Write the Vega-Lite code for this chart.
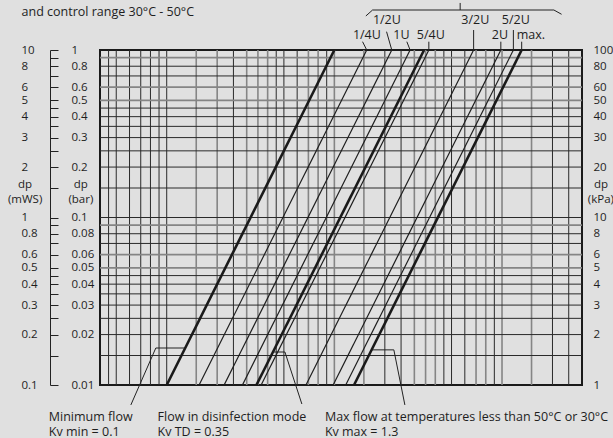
{
  "$schema": "https://vega.github.io/schema/vega-lite/v6.json",
  "width": 482,
  "height": 335,
  "autosize": {"type": "none"},
  "padding": {"left": 100, "top": 50, "right": 31, "bottom": 53},
  "background": "#e0e0e0",
  "config": {
    "view": {"stroke": "#1a1a1a", "strokeWidth": 2},
    "font": "Open Sans",
    "axis": {"labelFont": "Open Sans", "labelFontSize": 11.5, "labelColor": "#1e1e1e", "grid": false, "tickColor": "#222"}
  },
  "datasets": {
    "vgridDark": [{"Q":4.5},{"Q":5},{"Q":6},{"Q":7},{"Q":8},{"Q":9},{"Q":10},{"Q":25},{"Q":45},{"Q":50},{"Q":60},{"Q":90},{"Q":200},{"Q":250},{"Q":450},{"Q":500},{"Q":600},{"Q":900},{"Q":2000},{"Q":2500}],
    "vgridGrey": [{"Q":15},{"Q":20},{"Q":30},{"Q":35},{"Q":40},{"Q":70},{"Q":80},{"Q":100},{"Q":150},{"Q":300},{"Q":350},{"Q":400},{"Q":700},{"Q":800},{"Q":1000},{"Q":1500}],
    "hgridDark": [{"dp":0.8},{"dp":0.7},{"dp":0.45},{"dp":0.4},{"dp":0.35},{"dp":0.3},{"dp":0.25},{"dp":0.2},{"dp":0.15},{"dp":0.1},{"dp":0.08},{"dp":0.07},{"dp":0.045},{"dp":0.04},{"dp":0.035},{"dp":0.03},{"dp":0.025},{"dp":0.02},{"dp":0.015}],
    "hgridGrey": [{"dp":0.9},{"dp":0.6},{"dp":0.5},{"dp":0.09},{"dp":0.06},{"dp":0.05}],
    "curves": [
      {"curve":"Kv min","kind":"limit","Q":10,"dp":0.01},{"curve":"Kv min","kind":"limit","Q":100,"dp":1},
      {"curve":"1/4U","kind":"setting","Q":15.6,"dp":0.01},{"curve":"1/4U","kind":"setting","Q":156,"dp":1},
      {"curve":"1/2U","kind":"setting","Q":22,"dp":0.01},{"curve":"1/2U","kind":"setting","Q":220,"dp":1},
      {"curve":"1U","kind":"setting","Q":28.3,"dp":0.01},{"curve":"1U","kind":"setting","Q":283,"dp":1},
      {"curve":"Kv TD","kind":"limit","Q":34.3,"dp":0.01},{"curve":"Kv TD","kind":"limit","Q":343,"dp":1},
      {"curve":"5/4U","kind":"setting","Q":36.6,"dp":0.01},{"curve":"5/4U","kind":"setting","Q":366,"dp":1},
      {"curve":"3/2U","kind":"setting","Q":67.7,"dp":0.01},{"curve":"3/2U","kind":"setting","Q":677,"dp":1},
      {"curve":"2U","kind":"setting","Q":98.4,"dp":0.01},{"curve":"2U","kind":"setting","Q":984,"dp":1},
      {"curve":"5/2U","kind":"setting","Q":116.9,"dp":0.01},{"curve":"5/2U","kind":"setting","Q":1169,"dp":1},
      {"curve":"Kv max","kind":"limit","Q":131,"dp":0.01},{"curve":"Kv max","kind":"limit","Q":1310,"dp":1}
    ],
    "pointers": [
      {"p":"1/4U","o":1,"Q":147.3,"dp":1.121},{"p":"1/4U","o":2,"Q":156,"dp":1},
      {"p":"1/2U","o":1,"Q":204.8,"dp":1.286},{"p":"1/2U","o":2,"Q":220,"dp":1},
      {"p":"1U","o":1,"Q":270.6,"dp":1.121},{"p":"1U","o":2,"Q":283,"dp":1},
      {"p":"5/4U","o":1,"Q":366,"dp":1.121},{"p":"5/4U","o":2,"Q":366,"dp":1},
      {"p":"3/2U","o":1,"Q":677,"dp":1.316},{"p":"3/2U","o":2,"Q":677,"dp":1},
      {"p":"2U","o":1,"Q":984,"dp":1.121},{"p":"2U","o":2,"Q":984,"dp":1},
      {"p":"5/2U","o":1,"Q":1169,"dp":1.316},{"p":"5/2U","o":2,"Q":1169,"dp":1},
      {"p":"max","o":1,"Q":1310,"dp":1.121},{"p":"max","o":2,"Q":1310,"dp":1},
      {"p":"brace","o":1,"Q":154.1,"dp":1.596},{"p":"brace","o":2,"Q":169,"dp":1.733},{"p":"brace","o":3,"Q":2039,"dp":1.733},{"p":"brace","o":4,"Q":2266,"dp":1.634},
      {"p":"brace tick","o":1,"Q":562.8,"dp":1.733},{"p":"brace tick","o":2,"Q":562.8,"dp":1.909},
      {"p":"min flow","o":1,"Q":6.11,"dp":0.0076},{"p":"min flow","o":2,"Q":8.61,"dp":0.01663},{"p":"min flow","o":3,"Q":13.0,"dp":0.01663},
      {"p":"td flow","o":1,"Q":64.0,"dp":0.0077},{"p":"td flow","o":2,"Q":50.7,"dp":0.01574},{"p":"td flow","o":3,"Q":43.0,"dp":0.01574},
      {"p":"max flow","o":1,"Q":263.4,"dp":0.0076},{"p":"max flow","o":2,"Q":226.4,"dp":0.01621},{"p":"max flow","o":3,"Q":166.8,"dp":0.01621}
    ],
    "uTexts": [
      {"t":"1/2U","Q":205.7,"dp":1.51},{"t":"3/2U","Q":693.5,"dp":1.51},{"t":"5/2U","Q":1209,"dp":1.51},
      {"t":"1/4U","Q":156.3,"dp":1.229},{"t":"1U","Q":251,"dp":1.229},{"t":"5/4U","Q":376,"dp":1.229},{"t":"2U","Q":971,"dp":1.229},{"t":"max.","Q":1486,"dp":1.229}
    ],
    "axisTitles": [
      {"t":"dp","Q":1.43,"dp":0.1563},{"t":"(mWS)","Q":1.43,"dp":0.1272},
      {"t":"dp","Q":3.075,"dp":0.1563},{"t":"(bar)","Q":3.075,"dp":0.1272},
      {"t":"dp","Q":3890,"dp":0.1563},{"t":"(kPa)","Q":3890,"dp":0.1272}
    ],
    "leftTexts": [
      {"t":"and control range 30°C - 50°C","Q":1.362,"dp":1.675},
      {"t":"Minimum flow","Q":1.98,"dp":0.00648},{"t":"Kv min = 0.1","Q":1.98,"dp":0.00525},
      {"t":"Flow in disinfection mode","Q":8.82,"dp":0.00648},{"t":"Kv TD = 0.35","Q":8.82,"dp":0.00525},
      {"t":"Max flow at temperatures less than 50°C or 30°C","Q":87.8,"dp":0.00648},{"t":"Kv max = 1.3","Q":87.8,"dp":0.00525}
    ]
  },
  "resolve": {"axis": {"y": "independent"}},
  "layer": [
    {
      "data": {"name": "vgridDark"},
      "mark": {"type": "rule", "color": "#2a2a2a", "strokeWidth": 1},
      "encoding": {"x": {"field": "Q", "type": "quantitative", "scale": {"type": "log", "domain": [4, 3000], "nice": false}, "axis": null}}
    },
    {
      "data": {"name": "vgridGrey"},
      "mark": {"type": "rule", "color": "#858585", "strokeWidth": 1.6},
      "encoding": {"x": {"field": "Q", "type": "quantitative", "scale": {"type": "log", "domain": [4, 3000], "nice": false}, "axis": null}}
    },
    {
      "data": {"name": "hgridDark"},
      "mark": {"type": "rule", "color": "#2a2a2a", "strokeWidth": 1},
      "encoding": {"y": {"field": "dp", "type": "quantitative", "scale": {"type": "log", "domain": [0.01, 1], "nice": false}, "axis": null}}
    },
    {
      "data": {"name": "hgridGrey"},
      "mark": {"type": "rule", "color": "#858585", "strokeWidth": 1.6},
      "encoding": {"y": {"field": "dp", "type": "quantitative", "scale": {"type": "log", "domain": [0.01, 1], "nice": false}, "axis": null}}
    },
    {
      "data": {"name": "curves"},
      "transform": [{"filter": "datum.kind == 'setting'"}],
      "mark": {"type": "line", "color": "#1e1e1e", "strokeWidth": 1.2},
      "encoding": {
        "x": {"field": "Q", "type": "quantitative", "scale": {"type": "log", "domain": [4, 3000], "nice": false},
          "axis": {"orient": "bottom", "values": [4,5,8,10,20,30,40,50,80,100,200,300,400,500,800,1000,2000,3000],
            "labelExpr": "datum.value == 40 ? '30' : (datum.value >= 2000 ? '' : format(datum.value, 'd'))",
            "ticks": true, "tickSize": 5, "tickWidth": 1, "tickColor": "#222", "domain": false, "grid": false,
            "labelPadding": 2, "labelFlush": false, "labelOverlap": false, "title": null}},
        "y": {"field": "dp", "type": "quantitative", "scale": {"type": "log", "domain": [0.01, 1], "nice": false},
          "axis": {"orient": "right", "offset": -532,
            "values": [1,0.9,0.8,0.7,0.6,0.5,0.45,0.4,0.35,0.3,0.25,0.2,0.15,0.1,0.09,0.08,0.07,0.06,0.05,0.045,0.04,0.035,0.03,0.025,0.02,0.015,0.01],
            "labels": false, "ticks": true, "tickSize": 8, "tickWidth": 1, "tickColor": "#222",
            "domain": true, "domainColor": "#222", "domainWidth": 1, "grid": false, "title": null}},
        "detail": {"field": "curve", "type": "nominal"}
      }
    },
    {
      "data": {"name": "curves"},
      "transform": [{"filter": "datum.kind == 'limit'"}],
      "mark": {"type": "line", "color": "#1a1a1a", "strokeWidth": 2.6},
      "encoding": {
        "x": {"field": "Q", "type": "quantitative", "scale": {"type": "log", "domain": [4, 3000], "nice": false}, "axis": null},
        "y": {"field": "dp", "type": "quantitative", "scale": {"type": "log", "domain": [0.01, 1], "nice": false},
          "axis": {"orient": "right", "offset": -532,
            "values": [1,0.8,0.6,0.5,0.4,0.3,0.2,0.1,0.08,0.06,0.05,0.04,0.03,0.02,0.01],
            "labelExpr": "format(datum.value, '~g')", "labelAlign": "left", "labelOverlap": false,
            "labels": true, "ticks": false, "tickSize": 0, "labelPadding": 21, "domain": false, "grid": false, "title": null}},
        "detail": {"field": "curve", "type": "nominal"}
      }
    },
    {
      "data": {"name": "pointers"},
      "mark": {"type": "line", "color": "#222", "strokeWidth": 1, "clip": false},
      "encoding": {
        "x": {"field": "Q", "type": "quantitative", "scale": {"type": "log", "domain": [4, 3000], "nice": false}, "axis": null},
        "y": {"field": "dp", "type": "quantitative", "scale": {"type": "log", "domain": [0.01, 1], "nice": false},
          "axis": {"orient": "right", "offset": -562,
            "values": [1,0.8,0.6,0.5,0.4,0.3,0.2,0.1,0.08,0.06,0.05,0.04,0.03,0.02,0.01],
            "labelExpr": "format(datum.value * 10, '.2~r')", "labelAlign": "left", "labelOverlap": false,
            "labels": true, "ticks": false, "tickSize": 0, "labelPadding": 1, "domain": false, "grid": false, "title": null}},
        "detail": {"field": "p", "type": "nominal"},
        "order": {"field": "o", "type": "quantitative"}
      }
    },
    {
      "data": {"name": "uTexts"},
      "mark": {"type": "text", "align": "center", "baseline": "middle", "font": "Open Sans", "fontSize": 12.5, "color": "#1e1e1e", "clip": false},
      "encoding": {
        "x": {"field": "Q", "type": "quantitative", "scale": {"type": "log", "domain": [4, 3000], "nice": false}, "axis": null},
        "y": {"field": "dp", "type": "quantitative", "scale": {"type": "log", "domain": [0.01, 1], "nice": false},
          "axis": {"orient": "right", "offset": 0,
            "values": [1,0.8,0.6,0.5,0.4,0.3,0.2,0.1,0.08,0.06,0.05,0.04,0.03,0.02,0.01],
            "labelExpr": "format(datum.value * 100, '.2~r')", "labelAlign": "left", "labelOverlap": false,
            "labels": true, "ticks": false, "tickSize": 0, "labelPadding": 11, "domain": false, "grid": false, "title": null}},
        "text": {"field": "t"}
      }
    },
    {
      "data": {"name": "axisTitles"},
      "mark": {"type": "text", "align": "center", "baseline": "middle", "font": "Open Sans", "fontSize": 11.5, "color": "#1e1e1e", "clip": false},
      "encoding": {
        "x": {"field": "Q", "type": "quantitative", "scale": {"type": "log", "domain": [4, 3000], "nice": false}, "axis": null},
        "y": {"field": "dp", "type": "quantitative", "scale": {"type": "log", "domain": [0.01, 1], "nice": false}, "axis": null},
        "text": {"field": "t"}
      }
    },
    {
      "data": {"name": "leftTexts"},
      "mark": {"type": "text", "align": "left", "baseline": "middle", "font": "Open Sans", "fontSize": 12.5, "color": "#1e1e1e", "clip": false},
      "encoding": {
        "x": {"field": "Q", "type": "quantitative", "scale": {"type": "log", "domain": [4, 3000], "nice": false}, "axis": null},
        "y": {"field": "dp", "type": "quantitative", "scale": {"type": "log", "domain": [0.01, 1], "nice": false}, "axis": null},
        "text": {"field": "t"}
      }
    }
  ]
}
